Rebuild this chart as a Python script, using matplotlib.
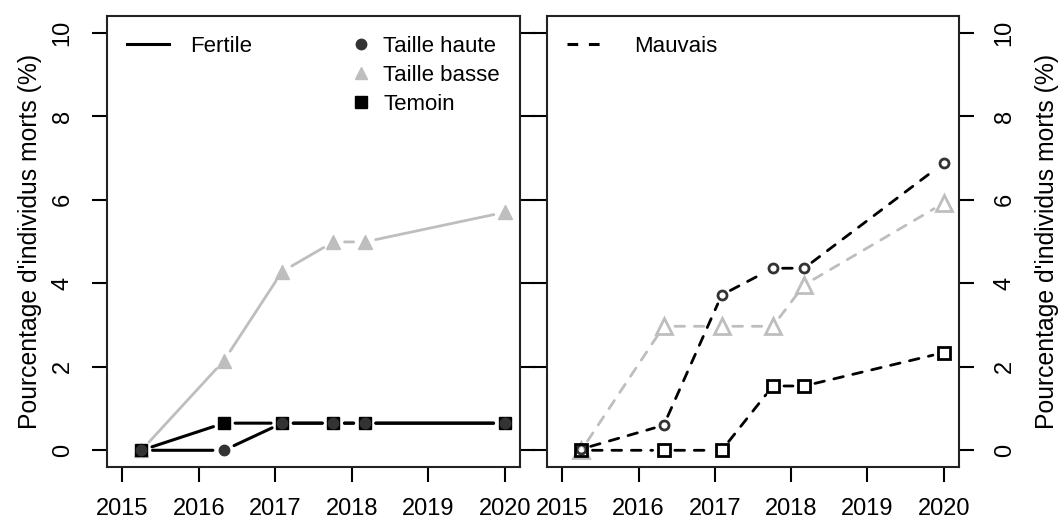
import matplotlib
matplotlib.use('Agg')
import matplotlib.pyplot as plt
from matplotlib.lines import Line2D

plt.rcParams['font.family'] = ['Liberation Sans', 'DejaVu Sans']

# sampling dates (decimal years)
dates = [2015.25, 2016.33, 2017.09, 2017.76, 2018.17, 2020.0]

# Fertile soil
fert_haute = [0, 0, 0.65, 0.65, 0.65, 0.65]
fert_basse = [0, 2.15, 4.28, 4.99, 4.99, 5.70]
fert_temoin = [0, 0.65, 0.65, 0.65, 0.65, 0.65]

# Poor soil (Mauvais)
mauv_haute = [0.03, 0.60, 3.72, 4.36, 4.36, 6.88]
mauv_basse = [0, 2.97, 2.97, 2.97, 3.96, 5.92]
mauv_temoin = [0, 0, 0, 1.54, 1.54, 2.34]

years = [2015, 2016, 2017, 2018, 2019, 2020]
yticks = [0, 2, 4, 6, 8, 10]
ylab = "Pourcentage d'individus morts (%)"

dark = '#333333'
grey = '#bebebe'
black = '#000000'


def type_b(ax, x, y, color, ls, lw, gap):
    # R-like type="b": segments stop short of the points
    for i in range(len(x) - 1):
        ax.annotate('', xy=(x[i + 1], y[i + 1]), xytext=(x[i], y[i]),
                    arrowprops=dict(arrowstyle='-', color=color, lw=lw,
                                    linestyle=ls, shrinkA=gap, shrinkB=gap))


fig = plt.figure(figsize=(10.58, 5.25), dpi=100)
ax1 = fig.add_axes([107 / 1058, 58 / 525, 413 / 1058, 451 / 525])
ax2 = fig.add_axes([547 / 1058, 58 / 525, 412 / 1058, 451 / 525])

# left panel
type_b(ax1, dates, fert_basse, grey, '-', 2.0, 8)
type_b(ax1, dates, fert_temoin, black, '-', 2.2, 8)
type_b(ax1, dates, fert_haute, black, '-', 2.2, 8)
ax1.plot(dates, fert_basse, ls='none', marker='^', ms=10, color=grey, mec=grey)
ax1.plot(dates, fert_temoin, ls='none', marker='s', ms=8.5, color=black, mec=black)
ax1.plot(dates, fert_haute, ls='none', marker='o', ms=7.5, color=dark, mec=dark)

# right panel
dash = (0, (3.5, 3.5))
type_b(ax2, dates, mauv_basse, grey, dash, 2.0, 8)
type_b(ax2, dates, mauv_haute, black, dash, 2.0, 7)
type_b(ax2, dates, mauv_temoin, black, dash, 2.0, 8)
ax2.plot(dates, mauv_basse, ls='none', marker='^', ms=11, mfc='none', mec=grey, mew=2)
ax2.plot(dates, mauv_haute, ls='none', marker='o', ms=6.5, mfc='none', mec=dark, mew=2)
ax2.plot(dates, mauv_temoin, ls='none', marker='s', ms=8, mfc='none', mec=black, mew=2)

for ax in (ax1, ax2):
    ax.set_xlim(2014.8, 2020.2)
    ax.set_ylim(-0.4, 10.4)
    ax.set_xticks(years)
    ax.set_xticklabels([str(y) for y in years], fontsize=17)
    ax.set_yticks(yticks)
    ax.set_yticklabels([str(v) for v in yticks], fontsize=17, rotation=90, va='center')
    ax.tick_params(axis='x', length=11, width=1.5, pad=11)
    ax.tick_params(axis='y', length=11, width=1.5)
    for s in ax.spines.values():
        s.set_linewidth(1.5)
        s.set_color('#222222')

ax1.tick_params(axis='y', left=True, right=True, labelleft=True, pad=13)
ax1.set_ylabel(ylab, fontsize=17.8)
ax1.yaxis.set_label_coords(-0.158, 0.5)

ax2.yaxis.tick_right()
ax2.tick_params(axis='y', left=True, right=True, labelright=True, labelleft=False, pad=14)
ax2.yaxis.set_label_position('right')
ax2.set_ylabel(ylab, fontsize=17.8, rotation=90)
ax2.yaxis.set_label_coords(1.185, 0.5)

# legends
leg1 = ax1.legend(handles=[Line2D([], [], color=black, lw=2.2)], labels=['Fertile'],
                  loc='upper left', bbox_to_anchor=(0.0, 1.0), frameon=False,
                  fontsize=16, handlelength=1.9, handletextpad=0.95)
ax1.add_artist(leg1)
mk = [Line2D([], [], ls='none', marker='o', ms=7.5, color=dark),
      Line2D([], [], ls='none', marker='^', ms=9, color=grey),
      Line2D([], [], ls='none', marker='s', ms=8, color=black)]
ax1.legend(handles=mk, labels=['Taille haute', 'Taille basse', 'Temoin'],
           loc='upper left', bbox_to_anchor=(0.54, 1.0), frameon=False,
           fontsize=16, handlelength=1.0, handletextpad=0.5, labelspacing=0.35)

ax2.legend(handles=[Line2D([], [], color=black, lw=2.2, ls=(0, (3.5, 3.5)))],
           labels=['Mauvais'], loc='upper left', bbox_to_anchor=(0.0, 1.0),
           frameon=False, fontsize=16, handlelength=1.65, handletextpad=1.35)

fig.savefig('out.png', dpi=100)
